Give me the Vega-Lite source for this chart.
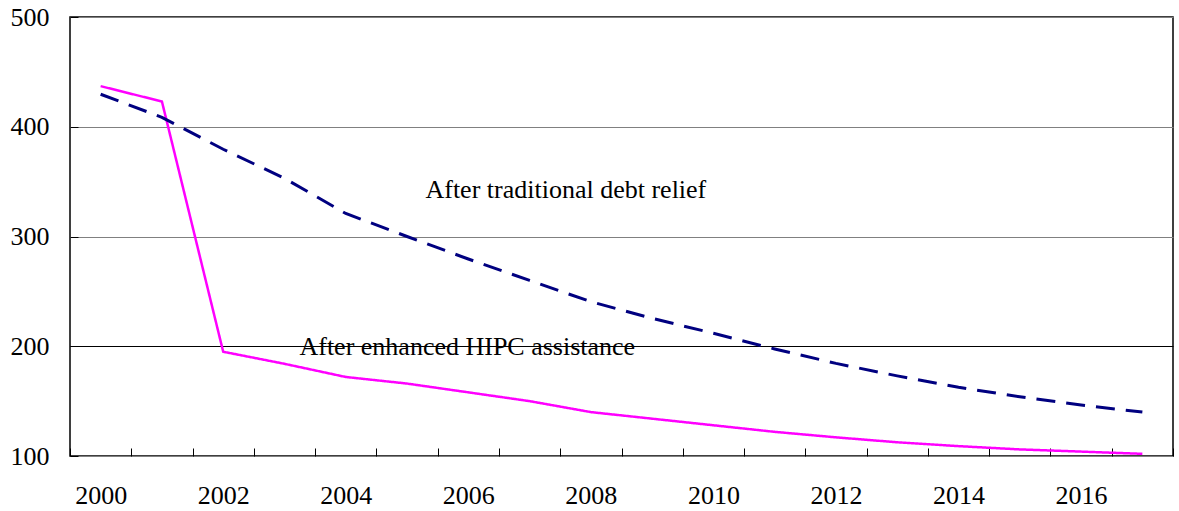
{
  "$schema": "https://vega.github.io/schema/vega-lite/v6.json",
  "width": 1103,
  "height": 439,
  "autosize": {"type": "none"},
  "padding": {"left": 70, "top": 17, "right": 6, "bottom": 55},
  "background": "white",
  "config": {
    "view": {"stroke": "black", "strokeWidth": 1.5},
    "font": "Liberation Serif",
    "axis": {"labelFont": "Liberation Serif", "labelFontSize": 26, "labelColor": "black", "titleFont": "Liberation Serif"}
  },
  "datasets": {
    "series": [
      {"year": 2000, "value": 437, "series": "HIPC"},
      {"year": 2001, "value": 423, "series": "HIPC"},
      {"year": 2002, "value": 195, "series": "HIPC"},
      {"year": 2003, "value": 184, "series": "HIPC"},
      {"year": 2004, "value": 172, "series": "HIPC"},
      {"year": 2005, "value": 166, "series": "HIPC"},
      {"year": 2006, "value": 158, "series": "HIPC"},
      {"year": 2007, "value": 150, "series": "HIPC"},
      {"year": 2008, "value": 140, "series": "HIPC"},
      {"year": 2009, "value": 134, "series": "HIPC"},
      {"year": 2010, "value": 128, "series": "HIPC"},
      {"year": 2011, "value": 122, "series": "HIPC"},
      {"year": 2012, "value": 117, "series": "HIPC"},
      {"year": 2013, "value": 112.5, "series": "HIPC"},
      {"year": 2014, "value": 109, "series": "HIPC"},
      {"year": 2015, "value": 106, "series": "HIPC"},
      {"year": 2016, "value": 104, "series": "HIPC"},
      {"year": 2017, "value": 102, "series": "HIPC"},
      {"year": 2000, "value": 429.6, "series": "Traditional"},
      {"year": 2001, "value": 408.6, "series": "Traditional"},
      {"year": 2002, "value": 379.5, "series": "Traditional"},
      {"year": 2003, "value": 353, "series": "Traditional"},
      {"year": 2004, "value": 321, "series": "Traditional"},
      {"year": 2005, "value": 300, "series": "Traditional"},
      {"year": 2006, "value": 279.5, "series": "Traditional"},
      {"year": 2007, "value": 260, "series": "Traditional"},
      {"year": 2008, "value": 240.6, "series": "Traditional"},
      {"year": 2009, "value": 225.4, "series": "Traditional"},
      {"year": 2010, "value": 211.8, "series": "Traditional"},
      {"year": 2011, "value": 197.5, "series": "Traditional"},
      {"year": 2012, "value": 184.4, "series": "Traditional"},
      {"year": 2013, "value": 173, "series": "Traditional"},
      {"year": 2014, "value": 162.6, "series": "Traditional"},
      {"year": 2015, "value": 154, "series": "Traditional"},
      {"year": 2016, "value": 146.5, "series": "Traditional"},
      {"year": 2017, "value": 140, "series": "Traditional"}
    ]
  },
  "encoding": {
    "x": {
      "field": "year",
      "type": "ordinal",
      "scale": {"type": "band", "paddingInner": 0, "paddingOuter": 0},
      "axis": {
        "title": null,
        "labelAngle": 0,
        "labelExpr": "datum.value % 2 === 0 ? datum.label : ''",
        "labelFont": "Liberation Serif",
        "labelFontSize": 26,
        "labelBaseline": "middle",
        "tickBand": "extent",
        "ticks": true,
        "tickSize": 8,
        "offset": -8,
        "tickColor": "black",
        "tickWidth": 1,
        "domain": false,
        "grid": false,
        "labelPadding": 39
      }
    },
    "y": {
      "field": "value",
      "type": "quantitative",
      "scale": {"domain": [100, 500], "nice": false, "zero": false},
      "axis": {
        "title": null,
        "values": [100, 200, 300, 400, 500],
        "labelFont": "Liberation Serif",
        "labelFontSize": 26,
        "grid": true,
        "gridColor": {"condition": {"test": "datum.value === 200", "value": "black"}, "value": "#808080"},
        "gridOpacity": 1,
        "gridWidth": 1.2,
        "domain": false,
        "ticks": true,
        "tickSize": 8,
        "offset": -8,
        "tickColor": "black",
        "labelPadding": 21
      }
    }
  },
  "layer": [
    {
      "data": {"name": "series"},
      "mark": {"type": "line"},
      "encoding": {
        "color": {"field": "series", "type": "nominal", "scale": {"domain": ["HIPC", "Traditional"], "range": ["#FF00FF", "#000080"]}, "legend": null},
        "strokeDash": {"field": "series", "type": "nominal", "scale": {"domain": ["HIPC", "Traditional"], "range": [[1, 0], [19, 11]]}, "legend": null},
        "strokeWidth": {"field": "series", "type": "nominal", "scale": {"domain": ["HIPC", "Traditional"], "range": [2.5, 3]}, "legend": null}
      }
    },
    {
      "data": {"values": [{"year": 2008, "value": 342.4, "label": "After traditional debt relief"}]},
      "mark": {"type": "text", "font": "Liberation Serif", "fontSize": 26, "color": "black", "align": "center", "baseline": "middle", "dx": -25},
      "encoding": {
        "text": {"field": "label"},
        "x": {"field": "year", "type": "ordinal"}
      }
    },
    {
      "data": {"values": [{"year": 2006, "value": 199.5, "label": "After enhanced HIPC assistance"}]},
      "mark": {"type": "text", "font": "Liberation Serif", "fontSize": 26, "color": "black", "align": "center", "baseline": "middle", "dx": -1},
      "encoding": {
        "text": {"field": "label"},
        "x": {"field": "year", "type": "ordinal"}
      }
    }
  ]
}
